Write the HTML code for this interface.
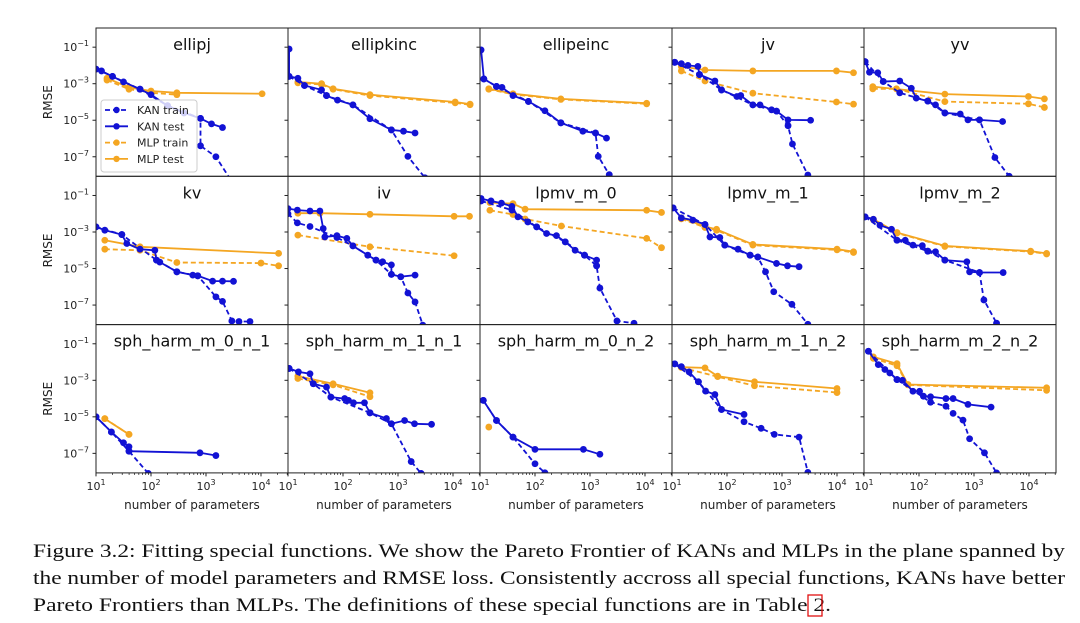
<!DOCTYPE html>
<html><head><meta charset="utf-8"><style>
body{margin:0;background:#fff;}
#fig{display:block;font-family:"DejaVu Sans","Liberation Sans",sans-serif;}
</style></head><body>
<svg id="fig" width="1080" height="623" viewBox="0 0 1080 623" xmlns="http://www.w3.org/2000/svg"></svg>
<script>
// Panel names
const titles = ["ellipj","ellipkinc","ellipeinc","jv","yv","kv","iv","lpmv_m_0","lpmv_m_1","lpmv_m_2","sph_harm_m_0_n_1","sph_harm_m_1_n_1","sph_harm_m_0_n_2","sph_harm_m_1_n_2","sph_harm_m_2_n_2"];
// Each series: list of [log10(params), log10(RMSE)]
const kanTest = [
 [[1.0,-2.2],[1.1,-2.3],[1.3,-2.6],[1.5,-2.9],[1.8,-3.3],[2.0,-3.6],[2.3,-4.2],[2.6,-4.6],[2.9,-4.9],[3.1,-5.2],[3.3,-5.4]],
 [[1.02,-1.1],[1.02,-2.6],[1.18,-2.7],[1.3,-3.1],[1.61,-3.34],[1.7,-3.65],[1.9,-3.9],[2.18,-4.16],[2.49,-4.92],[2.88,-5.53],[3.1,-5.6],[3.31,-5.7]],
 [[1.02,-1.15],[1.07,-2.74],[1.3,-3.15],[1.4,-3.2],[1.6,-3.65],[1.88,-3.97],[2.18,-4.48],[2.47,-5.14],[2.87,-5.6],[3.1,-5.7],[3.3,-5.98]],
 [[1.05,-1.83],[1.17,-1.9],[1.29,-2.0],[1.47,-2.05],[1.5,-2.5],[1.78,-2.85],[1.9,-3.34],[2.18,-3.7],[2.25,-3.65],[2.47,-4.16],[2.6,-4.16],[2.81,-4.43],[2.9,-4.5],[3.11,-4.98],[3.52,-5.0]],
 [[1.02,-1.79],[1.1,-2.37],[1.25,-2.4],[1.35,-2.88],[1.65,-2.85],[1.86,-3.25],[1.95,-3.79],[2.16,-3.95],[2.3,-4.16],[2.47,-4.6],[2.75,-4.66],[2.89,-4.98],[3.1,-4.98],[3.52,-5.07]],
 [[1.0,-2.72],[1.16,-2.9],[1.47,-3.14],[1.56,-3.63],[1.8,-3.94],[2.07,-4.0],[2.1,-4.54],[2.16,-4.65],[2.47,-5.18],[2.76,-5.36],[2.85,-5.4],[3.12,-5.69],[3.3,-5.69],[3.5,-5.7]],
 [[1.0,-1.72],[1.17,-1.8],[1.4,-1.85],[1.58,-1.85],[1.64,-2.81],[1.67,-3.27],[1.89,-3.2],[2.07,-3.35],[2.18,-3.76],[2.45,-4.27],[2.6,-4.54],[2.72,-4.63],[2.88,-4.8],[2.88,-5.32],[3.05,-5.45],[3.31,-5.36]],
 [[1.02,-1.17],[1.2,-1.3],[1.39,-1.42],[1.58,-1.6],[1.69,-2.17],[1.87,-2.45],[2.03,-2.72],[2.21,-3.08],[2.39,-3.2],[2.55,-3.54],[2.73,-4.0],[2.9,-4.27],[3.12,-4.54],[3.12,-4.85]],
 [[1.02,-1.68],[1.17,-2.23],[1.38,-2.35],[1.6,-2.59],[1.69,-3.27],[1.87,-3.3],[1.96,-3.72],[2.2,-3.94],[2.42,-4.27],[2.56,-4.37],[2.9,-4.72],[3.1,-4.85],[3.31,-4.9]],
 [[1.02,-2.17],[1.17,-2.3],[1.29,-2.63],[1.5,-2.85],[1.6,-3.45],[1.75,-3.45],[1.89,-3.72],[2.06,-3.75],[2.16,-4.05],[2.3,-4.08],[2.47,-4.54],[2.87,-4.63],[2.92,-5.18],[3.1,-5.22],[3.53,-5.22]],
 [[1.0,-5.0],[1.28,-5.83],[1.5,-6.42],[1.6,-6.64],[1.6,-6.88],[2.89,-6.97],[3.18,-7.12]],
 [[1.02,-2.35],[1.19,-2.54],[1.4,-2.64],[1.46,-3.19],[1.7,-3.37],[1.78,-3.92],[2.03,-4.0],[2.1,-4.1],[2.19,-4.23],[2.39,-4.23],[2.49,-4.78],[2.79,-5.09],[2.88,-5.38],[3.12,-5.2],[3.3,-5.38],[3.61,-5.41]],
 [[1.06,-4.1],[1.3,-5.2],[1.6,-6.11],[2.0,-6.78],[2.88,-6.78],[3.18,-7.05]],
 [[1.05,-2.1],[1.17,-2.25],[1.31,-2.54],[1.48,-3.08],[1.61,-3.59],[1.78,-3.78],[1.9,-4.6],[2.31,-4.87]],
 [[1.08,-1.41],[1.26,-2.14],[1.38,-2.41],[1.47,-2.6],[1.6,-2.96],[1.7,-3.0],[1.89,-3.6],[2.01,-3.6],[2.08,-3.87],[2.21,-3.9],[2.49,-4.0],[2.62,-4.0],[2.89,-4.32],[3.31,-4.47]]
];
const kanTrain = [
 [[1.0,-2.2],[1.3,-2.6],[1.8,-3.3],[2.3,-4.2],[2.9,-4.9],[2.9,-6.4],[3.18,-7.0],[3.5,-8.5]],
 [[1.02,-2.6],[1.3,-3.1],[1.7,-3.65],[2.18,-4.16],[2.88,-5.53],[3.18,-6.98],[3.49,-8.15]],
 [[1.07,-2.74],[1.3,-3.15],[1.88,-3.97],[2.47,-5.14],[3.1,-5.7],[3.15,-6.98],[3.35,-7.98],[3.45,-8.6]],
 [[1.05,-1.83],[1.5,-2.5],[1.9,-3.34],[2.47,-4.16],[2.9,-4.5],[3.11,-5.3],[3.19,-6.3],[3.47,-8.0],[3.55,-8.5]],
 [[1.02,-1.79],[1.35,-2.88],[1.65,-3.5],[2.16,-3.95],[2.47,-4.6],[3.1,-4.98],[3.38,-7.04],[3.64,-8.07]],
 [[1.0,-2.72],[1.47,-3.14],[2.1,-4.54],[2.47,-5.18],[2.85,-5.4],[3.18,-6.55],[3.3,-6.8],[3.47,-7.87],[3.6,-7.9],[3.8,-7.9]],
 [[1.0,-2.0],[1.17,-2.5],[1.4,-2.7],[1.89,-3.3],[2.18,-3.76],[2.6,-4.54],[2.88,-5.32],[3.05,-5.45],[3.18,-6.34],[3.31,-6.83],[3.45,-8.1]],
 [[1.02,-1.3],[1.58,-1.8],[2.03,-2.72],[2.55,-3.54],[2.9,-4.27],[3.12,-4.85],[3.18,-6.07],[3.49,-7.87],[3.8,-8.0]],
 [[1.02,-1.68],[1.6,-2.59],[1.96,-3.72],[2.42,-4.27],[2.56,-4.37],[2.7,-5.18],[2.85,-6.27],[3.18,-6.96],[3.47,-8.05]],
 [[1.02,-2.17],[1.6,-3.45],[2.16,-4.05],[2.47,-4.54],[3.1,-5.22],[3.18,-6.72],[3.41,-7.99],[3.45,-8.3]],
 [[1.0,-5.0],[1.28,-5.83],[1.6,-6.88],[1.95,-8.1],[2.0,-8.3]],
 [[1.02,-2.35],[1.46,-3.19],[1.78,-3.92],[2.49,-4.78],[2.88,-5.38],[3.24,-7.45],[3.42,-8.1]],
 [[1.06,-4.1],[1.3,-5.2],[1.6,-6.11],[2.0,-7.57],[2.18,-8.06],[2.25,-8.3]],
 [[1.05,-2.1],[1.48,-3.08],[1.9,-4.6],[2.31,-5.27],[2.62,-5.63],[2.86,-5.96],[3.31,-6.11],[3.47,-8.04],[3.5,-8.3]],
 [[1.08,-1.41],[1.6,-2.96],[2.21,-4.2],[2.49,-4.42],[2.62,-4.81],[2.8,-5.18],[2.92,-6.2],[3.19,-6.97],[3.41,-8.07],[3.45,-8.3]]
];
const mlpTest = [
 [[1.2,-2.7],[1.6,-3.2],[2.0,-3.4],[2.47,-3.5],[4.02,-3.55]],
 [[1.18,-2.9],[1.61,-3.0],[1.82,-3.28],[2.49,-3.6],[4.04,-4.0],[4.31,-4.12]],
 [[1.16,-3.28],[1.6,-3.55],[2.47,-3.83],[4.03,-4.07]],
 [[1.17,-2.06],[1.6,-2.25],[2.47,-2.3],[3.99,-2.3],[4.3,-2.4]],
 [[1.16,-3.16],[2.47,-3.57],[3.99,-3.7],[4.28,-3.83]],
 [[1.16,-3.45],[1.8,-3.81],[4.32,-4.17]],
 [[1.18,-1.97],[1.58,-1.97],[2.49,-2.03],[4.02,-2.14],[4.3,-2.14]],
 [[1.18,-1.39],[1.6,-1.45],[1.82,-1.75],[4.03,-1.81],[4.3,-1.93]],
 [[1.17,-2.23],[1.6,-2.7],[1.81,-2.85],[2.47,-3.68],[4.0,-3.94],[4.3,-4.08]],
 [[1.17,-2.3],[1.6,-3.03],[2.47,-3.76],[4.03,-4.05],[4.32,-4.17]],
 [[1.16,-5.1],[1.6,-5.96]],
 [[1.18,-2.77],[1.82,-3.19],[2.49,-3.68]],
 [],
 [[1.17,-2.28],[1.6,-2.32],[1.83,-2.77],[2.5,-3.08],[4.0,-3.45]],
 [[1.17,-1.72],[1.6,-2.09],[1.8,-3.23],[4.32,-3.41]]
];
const mlpTrain = [
 [[1.2,-2.8],[1.6,-3.3],[2.0,-3.5],[2.47,-3.6]],
 [[1.18,-2.95],[1.61,-3.05],[1.82,-3.3],[2.49,-3.65],[4.04,-4.05],[4.31,-4.15]],
 [[1.16,-3.3],[1.6,-3.58],[2.47,-3.86],[4.03,-4.1]],
 [[1.17,-2.3],[1.6,-2.85],[2.47,-3.52],[3.99,-4.0],[4.3,-4.12]],
 [[1.16,-3.28],[1.59,-3.28],[2.47,-3.98],[3.99,-4.1],[4.28,-4.3]],
 [[1.16,-3.94],[1.8,-4.0],[2.47,-4.67],[4.0,-4.7],[4.32,-4.85]],
 [[1.18,-3.17],[2.49,-3.81],[4.02,-4.3]],
 [[1.18,-1.81],[1.6,-2.04],[1.82,-2.29],[2.48,-2.67],[4.03,-3.35],[4.3,-3.86]],
 [[1.17,-2.28],[1.6,-2.75],[1.81,-2.9],[2.47,-3.72],[4.0,-3.98],[4.3,-4.12]],
 [[1.17,-2.33],[1.6,-3.06],[2.47,-3.79],[4.03,-4.08],[4.32,-4.2]],
 [[1.16,-5.1],[1.6,-5.96]],
 [[1.18,-2.9],[1.82,-3.25],[2.49,-3.9]],
 [[1.16,-5.56]],
 [[1.17,-2.3],[1.83,-2.8],[2.5,-3.3],[4.0,-3.67]],
 [[1.17,-1.8],[1.6,-2.2],[1.8,-3.25],[4.32,-3.55]]
];
const yTicks = [-1,-3,-5,-7];
const xTicks = [1,2,3,4];
const legendLabels = ["KAN train","KAN test","MLP train","MLP test"];

const NS="http://www.w3.org/2000/svg";
const svg=document.getElementById('fig');
const BLUE="#1212d4", ORANGE="#f4a622";
const L0=96, T0=28, PW=192, PH=148.3;
const XMIN=1, XMAX=1+192/55, YMIN=-8.07, YMAX=0.05;
function mk(tag,attrs,parent){const e=document.createElementNS(NS,tag);for(const k in attrs)e.setAttribute(k,attrs[k]);(parent||svg).appendChild(e);return e;}
function xs(i,v){return L0+(i%5)*PW+(v-XMIN)/(XMAX-XMIN)*PW;}
function ys(i,v){return T0+Math.floor(i/5)*PH+(YMAX-v)/(YMAX-YMIN)*PH;}

const defs=mk('defs',{});
titles.forEach((t,i)=>{
  const c=i%5,r=Math.floor(i/5);
  const px=L0+c*PW, py=T0+r*PH;
  const cp=mk('clipPath',{id:'cp'+i},defs);
  mk('rect',{x:px,y:py,width:PW,height:PH},cp);
  const g=mk('g',{'clip-path':'url(#cp'+i+')'});
  
  
  function series(data,color,dash,name){
    if(!data.length)return;
    const pts=data.map(p=>xs(i,p[0]).toFixed(1)+','+ys(i,p[1]).toFixed(1)).join(' ');
    const pl=mk('polyline',{points:pts,fill:'none',stroke:color,'stroke-width':1.8,'stroke-dasharray':dash?'5,3':'none'},g);
    
    
    data.forEach(p=>{
      const m=mk('circle',{cx:xs(i,p[0]),cy:ys(i,p[1]),r:3.4,fill:color},g);
      
      
    });
  }
  series(mlpTrain[i],ORANGE,true,'mlp-train');
  series(mlpTest[i],ORANGE,false,'mlp-test');
  series(kanTrain[i],BLUE,true,'kan-train');
  series(kanTest[i],BLUE,false,'kan-test');
  const fr=mk('rect',{x:px,y:py,width:PW,height:PH,fill:'none',stroke:'#222','stroke-width':1});
  
  
  const tt=mk('text',{x:px+PW/2,y:py+22,'text-anchor':'middle','font-size':16,fill:'#111'});
  tt.textContent=t;
  
  
  yTicks.forEach(v=>{
    const y=ys(i,v);
    mk('line',{x1:px-3.5,x2:px,y1:y,y2:y,stroke:'#222','stroke-width':1});
    if(c===0){
      const tx=mk('text',{x:px-7,y:y+4,'text-anchor':'end','font-size':11,fill:'#222'});
      
      
      tx.innerHTML='10<tspan dy="-5" font-size="8">\u2212'+Math.abs(v)+'</tspan>';
    }
  });
  if(c===0){
    const yl=mk('text',{x:52,y:py+PH/2,'text-anchor':'middle','font-size':12,fill:'#222',transform:'rotate(-90 52 '+(py+PH/2)+')'});
    yl.textContent='RMSE';
    
    
  }
  if(r===2){
    const by=py+PH;
    xTicks.forEach(v=>{
      const x=xs(i,v);
      mk('line',{x1:x,x2:x,y1:by,y2:by+3.5,stroke:'#222','stroke-width':1});
      const tx=mk('text',{x:x,y:by+17,'text-anchor':'middle','font-size':11,fill:'#222'});
      
      
      tx.innerHTML='10<tspan dy="-5" font-size="8">'+v+'</tspan>';
      if(v<4.5)for(let k=2;k<10;k++){const lx=xs(i,v+Math.log10(k));if(lx<=px+PW)mk('line',{x1:lx,x2:lx,y1:by,y2:by+2,stroke:'#222','stroke-width':0.8});}
    });
    const xl=mk('text',{x:px+PW/2,y:by+36,'text-anchor':'middle','font-size':12,fill:'#222'});
    xl.textContent='number of parameters';
    
    
  }
});
const lg=mk('g',{});


mk('rect',{x:101,y:100,width:96,height:72,rx:3,fill:'rgba(255,255,255,0.8)',stroke:'#ccc','stroke-width':1},lg);
legendLabels.forEach((lab,k)=>{
  const y=110+k*16.3, col=k<2?BLUE:ORANGE, dash=(k%2===0);
  mk('line',{x1:105,x2:128,y1:y,y2:y,stroke:col,'stroke-width':1.8,'stroke-dasharray':dash?'5,3':'none'},lg);
  mk('circle',{cx:116.5,cy:y,r:3.2,fill:col},lg);
  const t=mk('text',{x:137,y:y+4,'font-size':11,fill:'#222'},lg);
  t.textContent=lab;
  
  
});
</script>
<div style="position:absolute;left:0;top:0;width:1080px;height:623px;pointer-events:none;">
<svg width="1080" height="623" style="position:absolute;left:0;top:0;font-family:'Liberation Serif',serif;font-size:19px;">
<text style="font-family:'Liberation Serif',serif" x="33" y="557" textLength="1032" lengthAdjust="spacingAndGlyphs" fill="#111">Figure 3.2: Fitting special functions. We show the Pareto Frontier of KANs and MLPs in the plane spanned by</text>
<text style="font-family:'Liberation Serif',serif" x="33" y="584" textLength="1032" lengthAdjust="spacingAndGlyphs" fill="#111">the number of model parameters and RMSE loss. Consistently accross all special functions, KANs have better</text>
<text style="font-family:'Liberation Serif',serif" x="33" y="611" textLength="798" lengthAdjust="spacingAndGlyphs" fill="#111">Pareto Frontiers than MLPs. The definitions of these special functions are in Table 2.</text>
<rect x="808" y="595" width="14" height="21" fill="none" stroke="#e01010" stroke-width="1.3"/>
</svg>
</div>
</body></html>
